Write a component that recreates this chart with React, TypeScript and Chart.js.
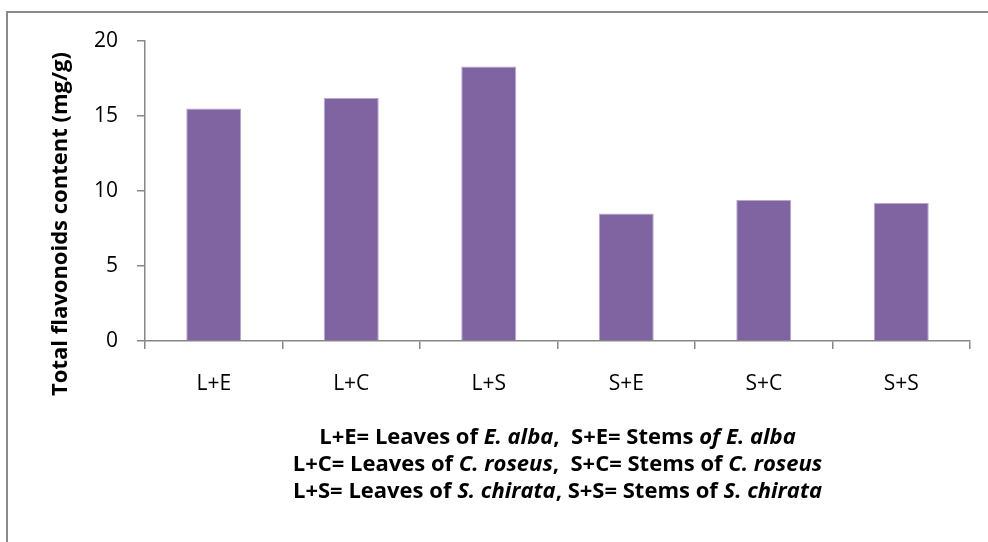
import React, { useEffect, useRef } from "react";
import { Chart, registerables } from "chart.js";

Chart.register(...registerables);

const categories = ["L+E", "L+C", "L+S", "S+E", "S+C", "S+S"];
const flavonoids = [15.5, 16.2, 18.3, 8.5, 9.4, 9.2];
const yMin = 0;
const yMax = 20;
const yStep = 5;
const yTitle = "Total flavonoids content (mg/g)";

type Seg = { t: string; i: boolean };
const captionLine1: Seg[] = [
  { t: "L+E= Leaves of ", i: false },
  { t: "E. alba", i: true },
  { t: ",  S+E= Stems ", i: false },
  { t: "of E. alba", i: true },
];
const captionLine2: Seg[] = [
  { t: "L+C= Leaves of ", i: false },
  { t: "C. roseus", i: true },
  { t: ",  S+C= Stems of ", i: false },
  { t: "C. roseus", i: true },
];
const captionLine3: Seg[] = [
  { t: "L+S= Leaves of ", i: false },
  { t: "S. chirata", i: true },
  { t: ", S+S= Stems of ", i: false },
  { t: "S. chirata", i: true },
];
const captionLines = [captionLine1, captionLine2, captionLine3];

const FONT = "'Open Sans', Lato, sans-serif";
const AXIS = "#878787";

const extras = {
  id: "extras",
  afterDraw(chart: any) {
    const ctx = chart.ctx as CanvasRenderingContext2D;
    const area = chart.chartArea;
    ctx.save();
    // frame
    ctx.strokeStyle = "#8a8a8a";
    ctx.lineWidth = 2;
    ctx.beginPath();
    ctx.moveTo(7, 542);
    ctx.lineTo(7, 12);
    ctx.lineTo(988, 12);
    ctx.stroke();

    // y title
    ctx.fillStyle = "#000";
    ctx.font = `bold 22px ${FONT}`;
    ctx.textAlign = "center";
    ctx.textBaseline = "alphabetic";
    ctx.translate(67, 224);
    ctx.rotate(-Math.PI / 2);
    ctx.fillText(yTitle, 0, 0);
    ctx.setTransform(1, 0, 0, 1, 0, 0);

    // caption
    const cx = (area.left + area.right) / 2;
    const ys = [444, 471, 498];
    ctx.textAlign = "left";
    ctx.textBaseline = "alphabetic";
    captionLines.forEach((line, li) => {
      let total = 0;
      const widths = line.map((s) => {
        ctx.font = `${s.i ? "italic " : ""}bold 22px ${FONT}`;
        const w = ctx.measureText(s.t).width;
        total += w;
        return w;
      });
      let x = cx - total / 2;
      line.forEach((s, k) => {
        ctx.font = `${s.i ? "italic " : ""}bold 22px ${FONT}`;
        ctx.fillText(s.t, x, ys[li]);
        x += widths[k];
      });
    });
    ctx.restore();
  },
};

export default function App() {
  const ref = useRef<HTMLCanvasElement>(null);
  useEffect(() => {
    if (!ref.current) return;
    const chart = new Chart(ref.current, {
      type: "bar",
      data: {
        labels: categories,
        datasets: [
          {
            data: flavonoids,
            backgroundColor: "#8064A2",
            borderColor: "#b7a8cf",
            borderWidth: 1,
            barPercentage: 0.4,
            categoryPercentage: 1,
          },
        ],
      },
      options: {
        animation: false,
        responsive: false,
        maintainAspectRatio: false,
        layout: { padding: { left: 0, top: 41, right: 18, bottom: 0 } },
        plugins: {
          legend: { display: false },
          tooltip: { enabled: false },
          title: { display: false },
        },
        scales: {
          x: {
            afterFit: (s: any) => {
              s.height = 201;
            },
            grid: {
              display: true,
              drawOnChartArea: false,
              drawTicks: true,
              tickLength: 8,
              color: AXIS,
              lineWidth: 1.5,
              offset: true,
            },
            border: { display: true, color: AXIS, width: 1.5 },
            ticks: {
              color: "#000",
              font: { family: FONT, size: 21 },
              padding: 22,
              maxRotation: 0,
            },
          },
          y: {
            min: yMin,
            max: yMax,
            afterFit: (s: any) => {
              s.width = 145;
            },
            grid: {
              display: true,
              drawOnChartArea: false,
              drawTicks: true,
              tickLength: 8,
              color: AXIS,
              lineWidth: 1.5,
            },
            border: { display: true, color: AXIS, width: 1.5 },
            ticks: {
              stepSize: yStep,
              color: "#000",
              font: { family: FONT, size: 21 },
              padding: 19,
            },
          },
        },
      },
      plugins: [extras],
    });
    return () => chart.destroy();
  }, []);
  return (
    <div style={{ position: "fixed", left: 0, top: 0, width: 988, height: 542, background: "#fff" }}>
      <canvas ref={ref} width={988} height={542} style={{ width: 988, height: 542, display: "block" }} />
    </div>
  );
}
